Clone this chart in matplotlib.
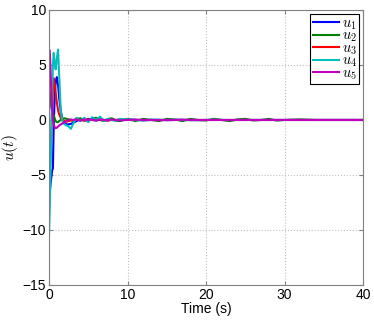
import matplotlib
matplotlib.use('Agg')
import matplotlib.pyplot as plt

plt.rcParams['font.family'] = ['Liberation Sans', 'DejaVu Sans']
plt.rcParams['mathtext.fontset'] = 'cm'
plt.rcParams['axes.unicode_minus'] = True

# время и управляющие сигналы
t = [0, 0.1, 0.25, 0.4, 0.5, 0.6, 0.75, 0.85, 1.0, 1.15, 1.3, 1.5, 1.75, 2.0, 2.25, 2.5,
     2.8, 3.1, 3.5, 4, 4.5, 5, 5.5, 6, 6.5, 7, 7.5, 8, 8.5, 9, 10, 11, 12, 13, 14, 15,
     16, 17, 18, 19, 20, 21, 22, 23, 24, 25, 26, 27, 28, 29, 30, 32, 34, 36, 38, 40]

u1 = [-7.5, -6.5, -5.5, -4.6, -4.4, -0.5, 2.5, 3.5, 3.9, 3.2, 2.0, 0.8, 0.0, -0.3, -0.4, -0.4,
      -0.35, -0.25, -0.1, 0.05, -0.05, 0.1, 0.0, -0.05, 0.05, 0.0, -0.05, 0.05, 0.0, -0.05, 0.05, 0.02, -0.03, 0.0, 0.02, -0.02,
      0.0, 0.02, 0.0, -0.02, 0.0, 0.01, 0.0, -0.01, 0.0, 0.01, 0.0, 0.0, 0.0, 0.0, 0.0, 0.0, 0.0, 0.0, 0.0, 0.0]

u2 = [3.8, 2.5, 1.3, 0.8, 0.6, 0.4, 0.1, -0.1, -0.2, -0.2, -0.1, 0.0, 0.1, 0.15, 0.1, 0.05,
      0.0, -0.1, 0.1, 0.15, 0.0, -0.1, 0.15, 0.2, 0.0, -0.1, 0.1, 0.15, -0.05, -0.1, 0.1, -0.1, 0.1, 0.0, -0.1, 0.1,
      0.05, -0.1, 0.1, 0.0, -0.05, 0.1, 0.0, -0.1, 0.05, 0.1, -0.05, 0.0, 0.1, -0.05, 0.0, 0.05, 0.0, 0.0, 0.0, 0.0]

u3 = [-5.6, -4.5, -2.0, 1.0, 2.8, 3.8, 3.2, 2.5, 1.6, 0.9, 0.5, 0.2, 0.0, -0.1, -0.15, -0.1,
      -0.05, 0.0, 0.05, 0.0, -0.05, 0.05, 0.0, 0.0, 0.05, 0.0, -0.05, 0.0, 0.0, 0.05, 0.0, 0.0, 0.0, 0.0, 0.0, 0.0,
      0.0, 0.0, 0.0, 0.0, 0.0, 0.0, 0.0, 0.0, 0.0, 0.0, 0.0, 0.0, 0.0, 0.0, 0.0, 0.0, 0.0, 0.0, 0.0, 0.0]

u4 = [-10.6, -8.0, -3.0, 2.5, 5.0, 6.1, 5.0, 4.6, 5.6, 6.4, 4.0, 0.8, -0.2, -0.4, -0.5, -0.6,
      -0.8, -0.3, 0.2, -0.1, 0.2, -0.2, 0.25, 0.0, 0.3, -0.1, 0.1, 0.0, -0.1, 0.1, 0.05, 0.0, -0.05, 0.05, 0.0, 0.0,
      0.03, 0.0, -0.03, 0.0, 0.0, 0.02, 0.0, 0.0, 0.0, 0.0, 0.0, 0.0, 0.0, 0.0, 0.0, 0.0, 0.0, 0.0, 0.0, 0.0]

u5 = [6.4, 6.3, 3.5, 1.0, 0.0, -0.4, -0.7, -0.75, -0.7, -0.6, -0.5, -0.4, -0.3, -0.2, -0.1, 0.0,
      0.05, 0.0, 0.05, -0.05, 0.05, 0.0, 0.05, -0.05, 0.05, 0.0, 0.0, 0.03, 0.0, -0.03, 0.0, 0.02, 0.0, 0.0, -0.02, 0.0,
      0.0, 0.02, 0.0, 0.0, 0.0, 0.0, 0.0, 0.0, 0.0, 0.0, 0.0, 0.0, 0.0, 0.0, 0.0, 0.0, 0.0, 0.0, 0.0, 0.0]

series = [u1, u2, u3, u4, u5]
colors = ['#0000ff', '#008000', '#ff0000', '#00bfbf', '#bf00bf']
labels = ['$u_1$', '$u_2$', '$u_3$', '$u_4$', '$u_5$']

fig = plt.figure(figsize=(3.74, 3.22), dpi=100)
ax = fig.add_axes([0.131, 0.115, 0.84, 0.854])

for y, c, lab in zip(series, colors, labels):
    ax.plot(t, y, color=c, lw=1.5, label=lab)

ax.set_xlim(0, 40)
ax.set_ylim(-15, 10)
ax.set_xticks([0, 10, 20, 30, 40])
ax.set_yticks([-15, -10, -5, 0, 5, 10])
ax.grid(True, linestyle=':', color='#c0c0c0', lw=0.8)
for s in ax.spines.values():
    s.set_color('#808080')
ax.tick_params(direction='in', length=3, top=True, right=True, colors='#808080',
               labelcolor='black', labelsize=10, pad=2)
ax.set_xlabel('Time (s)', fontsize=10, labelpad=0)
ax.set_ylabel('$u(t)$', fontsize=11, labelpad=2)

leg = ax.legend(loc='upper right', fontsize=10.5, fancybox=False, edgecolor='black',
                handlelength=1.8, handletextpad=0.2, labelspacing=-0.2,
                borderpad=0.15, borderaxespad=0.28, framealpha=1)
leg.get_frame().set_linewidth(0.8)

plt.savefig('out.png', dpi=100)
